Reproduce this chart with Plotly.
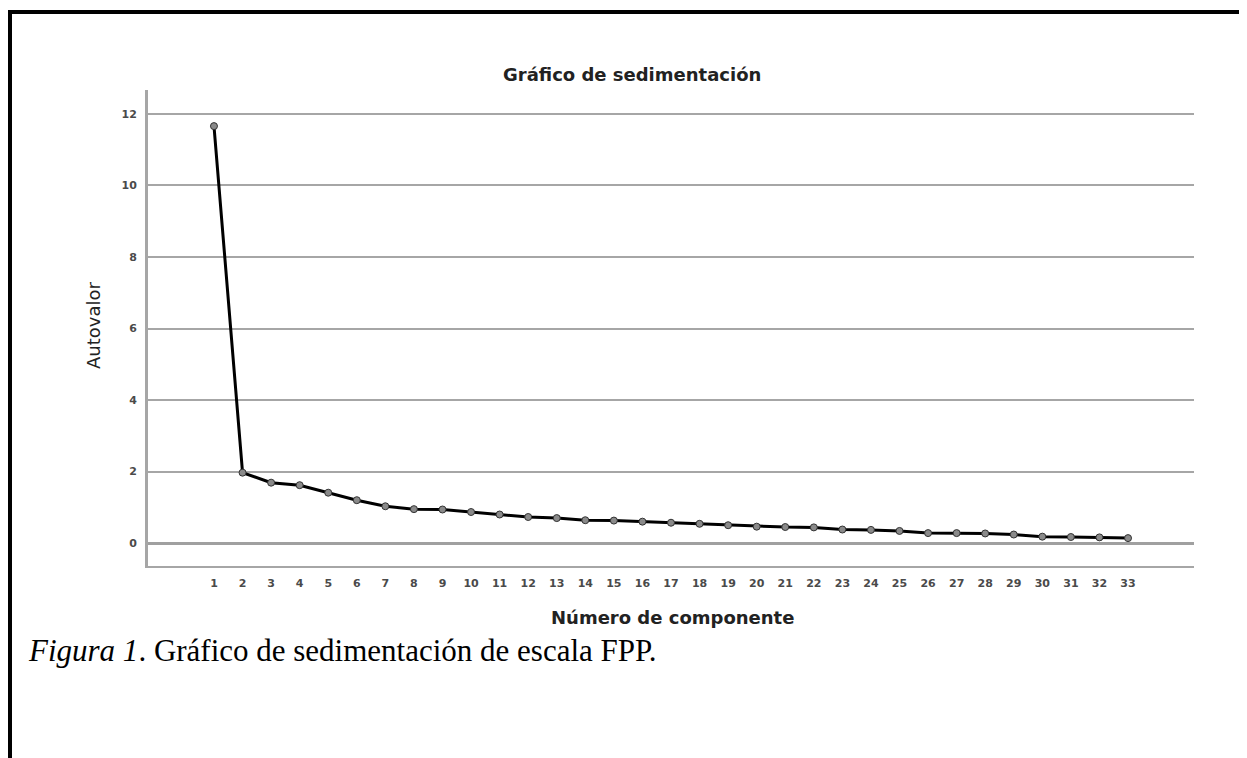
import plotly.graph_objects as go

componentes = list(range(1, 34))
autovalores = [11.66, 1.97, 1.69, 1.62, 1.41, 1.20, 1.03, 0.95, 0.94, 0.87,
               0.80, 0.73, 0.70, 0.64, 0.63, 0.60, 0.57, 0.54, 0.50, 0.46,
               0.45, 0.44, 0.38, 0.37, 0.34, 0.28, 0.28, 0.27, 0.24, 0.18,
               0.17, 0.16, 0.14]
y_ticks = [0, 2, 4, 6, 8, 10, 12]

OFF = 8  # page body margin
W, H = 1247 - OFF, 758 - OFF
L, R, T, B = 148 - OFF, 1194 - OFF, 90 - OFF, 566 - OFF
pw, ph = R - L, B - T

def px_x(p):
    return (p - OFF - L) / pw

def px_y(p):
    return (B - (p - OFF)) / ph

fig = go.Figure()
fig.add_trace(go.Scatter(
    x=componentes, y=autovalores, mode="lines+markers",
    line=dict(color="#000000", width=3),
    marker=dict(size=7, color="#8a8a8a", line=dict(color="#333333", width=1)),
    showlegend=False, cliponaxis=False,
))

tickfont = dict(family="DejaVu Sans, Arial, sans-serif", size=11,
                color="#4a4a4a", weight="bold")

fig.update_layout(
    width=W, height=H,
    margin=dict(l=L, r=W - R, t=T, b=H - B, pad=0),
    paper_bgcolor="white", plot_bgcolor="white",
    font=dict(family="DejaVu Sans, Arial, sans-serif", color="#222222"),
    xaxis=dict(
        range=[1 - 2.31, 33 + 2.31], tickmode="array", tickvals=componentes,
        ticktext=[str(c) for c in componentes],
        showgrid=False, zeroline=False, showline=True, linecolor="#a6a6a6",
        linewidth=2, ticks="", tickfont=tickfont,
        ticklabelstandoff=6,
    ),
    yaxis=dict(
        range=[-0.64, 12.67], tickmode="array", tickvals=y_ticks,
        ticktext=[str(v) for v in y_ticks],
        showgrid=True, gridcolor="#a6a6a6", gridwidth=2,
        zeroline=True, zerolinecolor="#a0a0a0", zerolinewidth=3,
        showline=True, linecolor="#a6a6a6", linewidth=3, ticks="",
        tickfont=tickfont, ticklabelstandoff=6,
    ),
)

# Titles
fig.add_annotation(text="<b>Gráfico de sedimentación</b>", xref="paper", yref="paper",
                   x=px_x(632), y=px_y(75), showarrow=False, xanchor="center",
                   yanchor="middle", font=dict(size=18, color="#222222"))
fig.add_annotation(text="<b>Número de componente</b>", xref="paper", yref="paper",
                   x=px_x(672), y=px_y(617), showarrow=False, xanchor="center",
                   yanchor="middle", font=dict(size=18, color="#222222"))
fig.add_annotation(text="Autovalor", xref="paper", yref="paper",
                   x=px_x(93), y=px_y(326), showarrow=False, xanchor="center",
                   yanchor="middle", textangle=-90, font=dict(size=18, color="#222222"))

# Caption
fig.add_annotation(text="<i>Figura 1</i>. Gráfico de sedimentación de escala FPP.",
                   xref="paper", yref="paper", x=px_x(26), y=px_y(650),
                   showarrow=False, xanchor="left", yanchor="middle",
                   font=dict(family="Liberation Serif, Times New Roman, serif",
                             size=31, color="#000000"))

# Frame lines (top and left)
fig.add_shape(type="line", xref="paper", yref="paper",
              x0=px_x(8), x1=px_x(1260), y0=px_y(12), y1=px_y(12),
              line=dict(color="#000000", width=4))
fig.add_shape(type="line", xref="paper", yref="paper",
              x0=px_x(10), x1=px_x(10), y0=px_y(10), y1=px_y(770),
              line=dict(color="#000000", width=4))

fig.write_html("out.html")
